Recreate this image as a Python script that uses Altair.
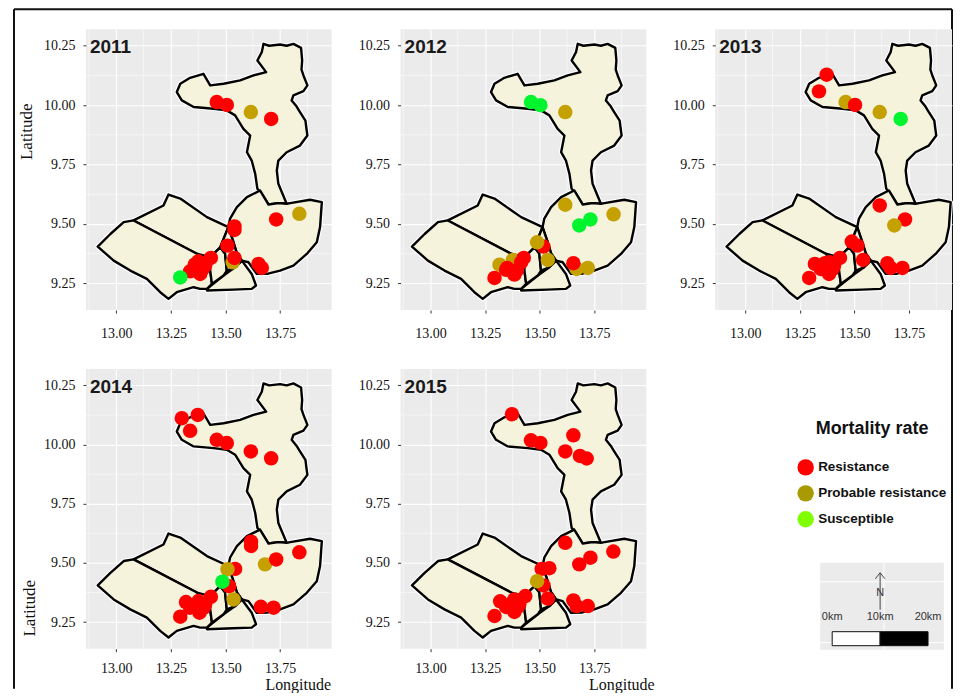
import altair as alt
import pandas as pd

STATUS = ["Resistance", "Probable resistance", "Susceptible"]
R, P, S = STATUS

# Local-government outlines as (lon, lat)
north = [(13.674,10.258),(13.700,10.250),(13.750,10.255),(13.780,10.250),(13.811,10.258),(13.846,10.241),(13.851,10.188),(13.848,10.150),(13.857,10.125),(13.875,10.083),(13.857,10.059),(13.811,10.041),(13.803,10.020),(13.825,9.995),(13.841,9.971),(13.866,9.935),(13.870,9.905),(13.875,9.872),(13.841,9.830),(13.780,9.802),(13.742,9.767),(13.735,9.725),(13.742,9.669),(13.780,9.585),(13.742,9.588),(13.697,9.582),(13.666,9.627),(13.646,9.648),(13.636,9.711),(13.620,9.767),(13.598,9.802),(13.613,9.872),(13.582,9.900),(13.544,9.957),(13.506,9.978),(13.445,9.985),(13.354,9.992),(13.300,10.020),(13.277,10.055),(13.293,10.090),(13.338,10.115),(13.399,10.132),(13.430,10.083),(13.491,10.090),(13.567,10.104),(13.628,10.125),(13.686,10.139),(13.646,10.188),(13.666,10.223)]
east = [(13.658,9.641),(13.598,9.613),(13.552,9.571),(13.521,9.523),(13.513,9.487),(13.534,9.430),(13.552,9.376),(13.575,9.346),(13.605,9.339),(13.643,9.290),(13.695,9.291),(13.750,9.304),(13.811,9.325),(13.872,9.374),(13.918,9.423),(13.933,9.487),(13.941,9.592),(13.887,9.602),(13.796,9.588),(13.780,9.585),(13.742,9.588),(13.697,9.582)]
south = [(13.415,9.227),(13.491,9.283),(13.544,9.318),(13.575,9.346),(13.620,9.290),(13.640,9.241),(13.620,9.227),(13.536,9.224),(13.415,9.220)]
northwest = [(13.079,9.515),(13.216,9.578),(13.239,9.624),(13.293,9.607),(13.415,9.529),(13.513,9.487),(13.476,9.402),(13.430,9.360),(13.369,9.375)]
southwest = [(12.915,9.405),(12.973,9.458),(13.034,9.508),(13.079,9.515),(13.369,9.375),(13.430,9.304),(13.438,9.248),(13.415,9.227),(13.384,9.227),(13.354,9.234),(13.277,9.213),(13.239,9.185),(13.201,9.213),(13.140,9.269),(13.064,9.304),(12.988,9.346)]
middle = [(13.476,9.402),(13.498,9.376),(13.506,9.304),(13.491,9.283),(13.438,9.248),(13.430,9.304),(13.430,9.360)]
sliver = [(13.476,9.402),(13.513,9.487),(13.534,9.430),(13.552,9.376),(13.575,9.346),(13.544,9.318),(13.506,9.304),(13.498,9.376)]
OUTLINES = {"north": north, "east": east, "south": south, "northwest": northwest, "southwest": southwest, "middle": middle, "sliver": sliver}

# Sites per year, in drawing order: (lon, lat, status)
sites_2011 = [(13.533,9.339,P),(13.616,9.971,P),(13.838,9.543,P),(13.460,10.013,R),(13.506,10.001,R),(13.709,9.942,R),(13.732,9.519,R),(13.541,9.475,R),(13.541,9.490,R),(13.509,9.409,R),(13.541,9.357,R),(13.651,9.332,R),(13.666,9.315,R),(13.338,9.301,R),(13.376,9.343,R),(13.384,9.290,R),(13.407,9.325,R),(13.433,9.357,R),(13.369,9.311,R),(13.395,9.310,R),(13.360,9.330,R),(13.293,9.275,S)]
sites_2012 = [(13.617,9.971,P),(13.617,9.581,P),(13.838,9.541,P),(13.669,9.311,P),(13.720,9.315,P),(13.316,9.329,P),(13.377,9.349,P),(13.517,9.405,R),(13.488,9.423,P),(13.537,9.349,P),(13.654,9.335,R),(13.293,9.273,R),(13.351,9.315,R),(13.346,9.307,R),(13.384,9.287,R),(13.415,9.339,R),(13.427,9.357,R),(13.395,9.305,R),(13.460,10.013,S),(13.503,10.000,S),(13.681,9.494,S),(13.732,9.519,S)]
sites_2013 = [(13.373,10.128,R),(13.338,10.058,R),(13.460,10.013,P),(13.503,10.001,R),(13.616,9.971,P),(13.712,9.942,S),(13.616,9.578,R),(13.732,9.519,R),(13.683,9.494,P),(13.488,9.426,R),(13.514,9.409,R),(13.540,9.349,R),(13.651,9.335,R),(13.666,9.315,R),(13.720,9.315,R),(13.293,9.273,R),(13.319,9.332,R),(13.346,9.311,R),(13.384,9.339,R),(13.384,9.290,R),(13.407,9.325,R),(13.434,9.357,R),(13.361,9.311,R),(13.400,9.310,R),(13.365,9.335,R)]
sites_2014 = [(13.300,10.111,R),(13.373,10.125,R),(13.338,10.058,R),(13.460,10.020,R),(13.506,10.006,R),(13.616,9.971,R),(13.709,9.942,R),(13.617,9.590,R),(13.617,9.572,R),(13.681,9.494,P),(13.732,9.515,R),(13.838,9.545,R),(13.544,9.475,R),(13.517,9.402,R),(13.662,9.315,R),(13.720,9.311,R),(13.293,9.273,R),(13.319,9.335,R),(13.338,9.311,R),(13.376,9.339,R),(13.381,9.290,R),(13.407,9.325,R),(13.433,9.357,R),(13.360,9.320,R),(13.400,9.310,R),(13.509,9.473,P),(13.537,9.346,P),(13.486,9.421,S)]
sites_2015 = [(13.373,10.128,R),(13.460,10.018,R),(13.503,10.007,R),(13.654,10.039,R),(13.617,9.971,R),(13.684,9.952,R),(13.715,9.941,R),(13.617,9.585,R),(13.837,9.548,R),(13.732,9.522,R),(13.681,9.494,R),(13.544,9.478,R),(13.509,9.475,R),(13.517,9.405,R),(13.537,9.349,R),(13.654,9.342,R),(13.669,9.318,R),(13.720,9.318,R),(13.293,9.276,R),(13.319,9.338,R),(13.346,9.314,R),(13.384,9.346,R),(13.384,9.293,R),(13.407,9.328,R),(13.434,9.360,R),(13.365,9.325,R),(13.400,9.315,R),(13.488,9.423,P)]

X_TICKS = [13.00, 13.25, 13.50, 13.75]
Y_TICKS = [9.25, 9.50, 9.75, 10.00, 10.25]
X_MINOR = [12.875, 13.125, 13.375, 13.625, 13.875]
Y_MINOR = [9.375, 9.625, 9.875, 10.125]
Y_DOMAIN = [9.138, 10.319]

MAP_COLORS = ["#ff0000", "#c4a000", "#00f52e"]
LEG_COLORS = ["#ff0000", "#a89a00", "#80ff00"]
PANEL_BG = "#ebebeb"
LAND = "#f5f3dc"
SERIF = "Liberation Serif"
SANS = "Liberation Sans"

outline_df = pd.DataFrame(
    [{"lon": p[0], "lat": p[1], "name": n, "seq": i}
     for n, pts in OUTLINES.items() for i, p in enumerate(pts)]
)


def panel(year, sites, width, height, x_domain, lat_title=None, lon_title=None, border=False, x_pad=13):
    xs = alt.Scale(domain=x_domain, nice=False, zero=False)
    ys = alt.Scale(domain=Y_DOMAIN, nice=False, zero=False)
    y_axis = dict(values=Y_TICKS, format=".2f", grid=True, gridColor="white", gridWidth=1.1,
                  domain=False, tickColor="#333333", tickSize=3, labelFont=SERIF,
                  labelFontSize=14, labelColor="#111111", labelPadding=8)
    x_axis = dict(values=X_TICKS, format=".2f", grid=True, gridColor="white", gridWidth=1.1,
                  domain=False, tickColor="#333333", tickSize=3, labelFont=SERIF,
                  labelFontSize=14, labelColor="#111111", labelPadding=x_pad)
    y_title = None
    if lat_title is not None:
        y_axis.update(titleFont=SERIF, titleFontSize=17, titleFontWeight="normal", titleColor="#111111",
                      titleX=lat_title[0], titleY=lat_title[1], titleAngle=270, titleBaseline="middle", titleAlign="center")
        y_title = "Latitude"
    x_title = None
    if lon_title is not None:
        x_axis.update(titleFont=SERIF, titleFontSize=16, titleFontWeight="normal", titleColor="#111111",
                      titleX=lon_title[0], titleY=lon_title[1], titleBaseline="middle", titleAlign="center")
        x_title = "Longitude"
    xax = alt.Axis(title=x_title, **x_axis)
    yax = alt.Axis(title=y_title, **y_axis)

    points_df = pd.DataFrame(sites, columns=["lon", "lat", "status"])
    points_df["ord"] = range(len(points_df))

    minor_x = alt.Chart(pd.DataFrame({"lon": X_MINOR})).mark_rule(color="white", strokeWidth=0.5).encode(
        x=alt.X("lon:Q", scale=xs, axis=xax))
    minor_y = alt.Chart(pd.DataFrame({"lat": Y_MINOR})).mark_rule(color="white", strokeWidth=0.5).encode(
        y=alt.Y("lat:Q", scale=ys, axis=yax))
    halo = alt.Chart(outline_df).mark_line(
        stroke="white", strokeWidth=4.6, interpolate="linear-closed", strokeJoin="round"
    ).encode(
        x=alt.X("lon:Q", scale=xs, axis=xax),
        y=alt.Y("lat:Q", scale=ys, axis=yax),
        detail="name:N",
        order="seq:Q",
    )
    land = alt.Chart(outline_df).mark_line(
        fill=LAND, stroke="black", strokeWidth=2.4, interpolate="linear-closed", strokeJoin="round"
    ).encode(
        x=alt.X("lon:Q", scale=xs, axis=xax),
        y=alt.Y("lat:Q", scale=ys, axis=yax),
        detail="name:N",
        order="seq:Q",
    )
    pts = alt.Chart(points_df).mark_point(filled=True, opacity=1, size=210).encode(
        x=alt.X("lon:Q", scale=xs, axis=xax),
        y=alt.Y("lat:Q", scale=ys, axis=yax),
        order="ord:Q",
        color=alt.Color("status:N", scale=alt.Scale(domain=STATUS, range=MAP_COLORS), legend=None),
    )
    label = alt.Chart(pd.DataFrame({"t": [str(year)]})).mark_text(
        font=SANS, fontSize=19, fontWeight="bold", color="#1a1a1a", align="left", baseline="middle"
    ).encode(text="t:N", x=alt.value(4), y=alt.value(18))
    layers = [minor_x, minor_y, halo, land, pts, label]
    if border:
        layers += [
            alt.Chart(pd.DataFrame({"a": [0]})).mark_rule(color="#111111", strokeWidth=2).encode(
                x=alt.value(-72), y=alt.value(-20), y2=alt.value(660)),
            alt.Chart(pd.DataFrame({"a": [0]})).mark_rule(color="#111111", strokeWidth=2).encode(
                x=alt.value(-72), x2=alt.value(867), y=alt.value(-20)),
            alt.Chart(pd.DataFrame({"a": [0]})).mark_rule(color="#111111", strokeWidth=2).encode(
                x=alt.value(867), y=alt.value(-20), y2=alt.value(660)),
        ]
    return alt.layer(*layers).properties(
        width=width, height=height, view=alt.ViewBackground(fill=PANEL_BG, stroke=None))


# Legend + scale-bar panel (x in km along the bar, y in panel units from the top)
KM_LABELS = ["0km", "10km", "20km"]
KM_VALUES = [0, 10, 20]
km_x = alt.Scale(domain=[-24.4, 25.0], nice=False, zero=False)
unit_y = alt.Scale(domain=[280, 0], nice=False, zero=False)
NOAX = dict(axis=None)


def legend_panel():
    xe = lambda f: alt.X(f, scale=km_x, **NOAX)
    ye = lambda f: alt.Y(f, scale=unit_y, **NOAX)
    key = alt.Chart(pd.DataFrame({"status": STATUS, "k": [0, 0, 0], "u": [230, 230, 230]})).mark_point(
        filled=True, opacity=0).encode(
        x=xe("k:Q"), y=ye("u:Q"),
        color=alt.Color("status:N", sort=STATUS, scale=alt.Scale(domain=STATUS, range=LEG_COLORS),
                        legend=alt.Legend(
                            title="Mortality rate", orient="none", legendX=82, legendY=51,
                            titleFont=SANS, titleFontSize=18, titleFontWeight="bold", titleColor="#111111",
                            titleAnchor="middle", titlePadding=21, titleLimit=300,
                            labelFont=SANS, labelFontSize=13.5, labelFontWeight="bold", labelColor="#111111",
                            labelLimit=300, labelOffset=4,
                            symbolType="circle", symbolSize=270, symbolOpacity=1, symbolStrokeWidth=0,
                            rowPadding=9)),
    )
    bg = alt.Chart(pd.DataFrame({"a": [-2.5], "b": [23.3], "t": [194], "d": [281]})).mark_rect(color="#ebebeb").encode(
        x=xe("a:Q"), x2="b:Q", y=ye("t:Q"), y2="d:Q")
    gh = alt.Chart(pd.DataFrame({"a": [-2.5, -2.5], "b": [23.3, 23.3], "u": [213, 274]})).mark_rule(color="white", strokeWidth=1).encode(
        x=xe("a:Q"), x2="b:Q", y=ye("u:Q"))
    gv = alt.Chart(pd.DataFrame({"a": [10.8], "t": [194], "d": [281]})).mark_rule(color="white", strokeWidth=1).encode(
        x=xe("a:Q"), y=ye("t:Q"), y2="d:Q")
    stem = alt.Chart(pd.DataFrame({"a": [10], "t": [204], "d": [241]})).mark_rule(color="#444444", strokeWidth=1).encode(
        x=xe("a:Q"), y=ye("t:Q"), y2="d:Q")
    head = alt.Chart(pd.DataFrame({"k": [9.0, 10.0, 11.0], "u": [210, 204, 210], "s": [0, 1, 2]})).mark_line(
        color="#444444", strokeWidth=1).encode(x=xe("k:Q"), y=ye("u:Q"), order="s:Q")
    north_t = alt.Chart(pd.DataFrame({"k": [10], "u": [224], "t": ["N"]})).mark_text(
        font=SANS, fontSize=11, color="#333333").encode(x=xe("k:Q"), y=ye("u:Q"), text="t:N")
    km_t = alt.Chart(pd.DataFrame({"k": KM_VALUES, "u": [248, 248, 248], "t": KM_LABELS})).mark_text(
        font=SANS, fontSize=11, color="#333333").encode(x=xe("k:Q"), y=ye("u:Q"), text="t:N")
    bar = alt.Chart(pd.DataFrame({"a": [0, 10], "b": [10, 20], "c": ["w", "k"], "t": [263, 263], "d": [277, 277]})).mark_rect(
        stroke="#111111", strokeWidth=1).encode(
        x=xe("a:Q"), x2="b:Q", y=ye("t:Q"), y2="d:Q",
        fill=alt.Fill("c:N", scale=alt.Scale(domain=["w", "k"], range=["white", "black"]), legend=None))
    return alt.layer(key, bg, gh, gv, stem, head, north_t, km_t, bar).properties(
        width=237, height=280, view=alt.ViewBackground(fill=None, stroke=None)
    ).resolve_scale(color="independent", fill="independent")


chart = alt.concat(
    panel(2011, sites_2011, 246, 281, [12.861, 13.986], lat_title=(-59, 102), border=True),
    panel(2012, sites_2012, 246, 281, [12.863, 13.988]),
    panel(2013, sites_2013, 237, 281, [12.863, 13.947]),
    panel(2014, sites_2014, 246, 280, [12.861, 13.986], lat_title=(-56, 239), lon_title=(212, 36), x_pad=10),
    panel(2015, sites_2015, 246, 280, [12.863, 13.988], lon_title=(221, 36), x_pad=10),
    legend_panel(),
    columns=3,
    spacing={"row": 59, "column": 69},
    bounds="flush",
).properties(padding={"left": 5, "top": 0, "right": 0, "bottom": 0}, background="white")

chart.save("out.html", embed_options={"renderer": "svg", "actions": False})
